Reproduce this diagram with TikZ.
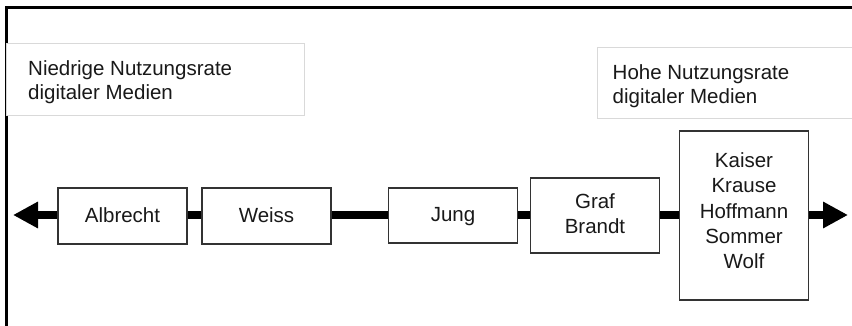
\documentclass[tikz,border=0pt]{standalone}
\usepackage{fontspec}
\setmainfont{Liberation Sans}
\usetikzlibrary{arrows.meta}
\tikzset{
  frameline/.style={line width=3pt, black},
  labelbox/.style={draw=black!15, line width=0.8pt, fill=white, inner sep=0pt, anchor=north west},
  labeltext/.style={inner sep=0pt, anchor=north west, align=left, text=black!90, font=\fontsize{20.5}{24.5}\selectfont},
  namebox/.style={draw=black!80, line width=1.3pt, fill=white, inner sep=0pt, minimum width=129pt},
  nametext/.style={inner sep=0pt, anchor=north, align=center, text=black!90, font=\fontsize{20.5}{25.25}\selectfont},
  axisline/.style={line width=8pt, black, {Triangle[length=25pt 0 0,width=25pt 0 0]}-{Triangle[length=25pt 0 0,width=25pt 0 0]}}
}
\begin{document}
\begin{tikzpicture}[x=1pt,y=-1pt]
\useasboundingbox (0,0) rectangle (852,326);
% frame
\coordinate (fbl) at (6.5,326);
\coordinate (ftl) at (6.5,7.5);
\coordinate (ftr) at (852,7.5);
\draw[frameline] (fbl) -- (ftl) -- (ftr);
% label boxes
\node[labelbox, minimum width=298pt, minimum height=72pt] (lowbox) at (6,43) {};
\node[labeltext] (lowtxt) at (28,60) {Niedrige Nutzungsrate\\digitaler Medien};
\node[labelbox, minimum width=260pt, minimum height=71pt] (highbox) at (597,47) {};
\node[labeltext] (hightxt) at (612.5,64) {Hohe Nutzungsrate\\digitaler Medien};
% axis
\coordinate (ltip) at (13,215);
\coordinate (rtip) at (848,215);
\draw[axisline] (ltip) -- (rtip);
% name boxes
\node[namebox, minimum height=56pt] (albrecht) at (122.5,216) {};
\node[namebox, minimum height=56pt] (weiss) at (266.5,216) {};
\node[namebox, minimum height=55pt] (jung) at (453,215.5) {};
\node[namebox, minimum height=75pt] (graf) at (595,215.5) {};
\node[namebox, minimum height=169pt] (kaiser) at (744,215.5) {};
% names
\node[nametext] (albrechttxt) at (albrecht.center |- 0,207) {Albrecht};
\node[nametext] (weisstxt) at (weiss.center |- 0,207) {Weiss};
\node[nametext] (jungtxt) at (jung.center |- 0,207) {Jung};
\node[nametext] (graftxt) at (graf.center |- 0,193) {Graf\\Brandt};
\node[nametext] (kaisertxt) at (kaiser.center |- 0,152.5) {Kaiser\\Krause\\Hoffmann\\Sommer\\Wolf};
\end{tikzpicture}
\end{document}
